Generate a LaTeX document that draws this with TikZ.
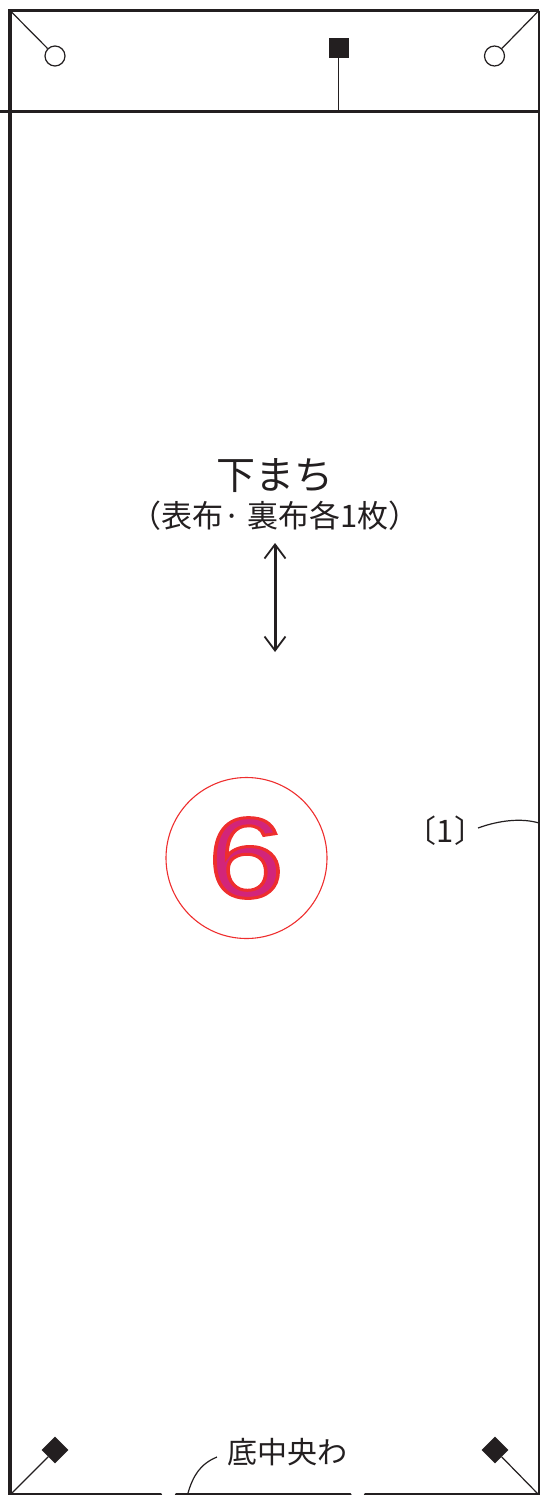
\documentclass[tikz,border=0pt]{standalone}
\usepackage{fontspec}
\setmainfont{Liberation Sans}
\newfontfamily\cjk{Noto Sans CJK JP}
\definecolor{ink}{HTML}{231F20}
\definecolor{redline}{HTML}{EE2E2E}
\newcommand{\outlined}[1]{\special{pdf:code q 2 Tr 3 w 0.933 0.180 0.180 RG 0.824 0.145 0.478 rg}#1\special{pdf:code Q}}
\usetikzlibrary{shapes.geometric,arrows.meta}
\tikzset{
  x=1pt,y=-1pt,
  heavy/.style={draw=ink,line width=3.4pt},
  edge/.style={draw=ink,line width=2.2pt,line cap=round},
  thin/.style={draw=ink,line width=1.2pt},
  hole/.style={circle,draw=ink,line width=1.2pt,fill=white,minimum size=20pt,inner sep=0pt},
  sqmark/.style={rectangle,fill=ink,minimum size=20pt,inner sep=0pt},
  dmmark/.style={diamond,fill=ink,minimum size=27pt,inner sep=0pt},
  label/.style={inner sep=0pt,text=ink},
  barbtip/.tip={Straight Barb[length=14pt,width=21pt,line width=1.8pt]},
}
\begin{document}
\begin{tikzpicture}
\useasboundingbox (0,0) rectangle (539,1495);
% outline
\coordinate (TL) at (10,10.5);
\coordinate (TR) at (539,10.5);
\coordinate (BL) at (10,1495);
\coordinate (BR) at (539,1495);
\coordinate (FL) at (0,111.3);
\coordinate (FR) at (539,111.3);
\draw[heavy] (BL) -- (TL) -- (TR);
\draw[heavy] (FL) -- (FR);
\draw[thin] (539,11) -- (539,1495);
% top marks
\node[hole] (h1) at (55,56) {};
\node[hole] (h2) at (494.5,56) {};
\node[sqmark] (s1) at (338.5,48) {};
\coordinate (f1) at (338.5,111);
\draw[thin] (TL) -- (h1);
\draw[thin] (TR) -- (h2);
\draw[thin] (s1) -- (f1);
% bottom marks
\node[dmmark] (d1) at (55,1450) {};
\node[dmmark] (d2) at (495,1450) {};
\draw[thin] (BL) -- (d1);
\draw[thin] (BR) -- (d2);
% bottom edge segments
\coordinate (b1) at (11,1494.4);
\coordinate (b2) at (161,1494.4);
\coordinate (b3) at (176,1494.4);
\coordinate (b4) at (350.5,1494.4);
\coordinate (b5) at (365,1494.4);
\coordinate (b6) at (539,1494.4);
\draw[edge] (b1) -- (b2);
\draw[edge] (b3) -- (b4);
\draw[edge] (b5) -- (b6);
% texts
\node[label,font=\cjk\fontsize{39}{39}\selectfont] (title) at (275,476) {下まち};
\node[label,font=\cjk\fontsize{31}{31}\selectfont] (sub) at (275,516) {（表布· 裏布各1枚）};
\coordinate (a1) at (275,543);
\coordinate (a2) at (275,652);
\draw[draw=ink,line width=3pt,barbtip-barbtip] (a1) -- (a2);
% number
\node[circle,draw=redline,line width=1.1pt,minimum size=161pt,inner sep=0pt] (c) at (246.5,858) {};
\node[inner sep=0pt,xscale=1.2,font=\fontsize{114}{114}\selectfont] (six) at (246,858) {\outlined{6}};
% [1]
\node[label,font=\cjk\fontsize{31}{31}\selectfont] (one) at (445.5,831) {〔1〕};
\coordinate (e1) at (539,823);
\draw[thin] (478,828) .. controls (500,820) and (522,818) .. (e1);
% bottom label
\node[label,font=\cjk\fontsize{30}{30}\selectfont] (bot) at (287,1452) {底中央わ};
\coordinate (e2) at (188,1493);
\draw[thin] (217,1457) .. controls (200,1464) and (193,1476) .. (e2);
\end{tikzpicture}
\end{document}
